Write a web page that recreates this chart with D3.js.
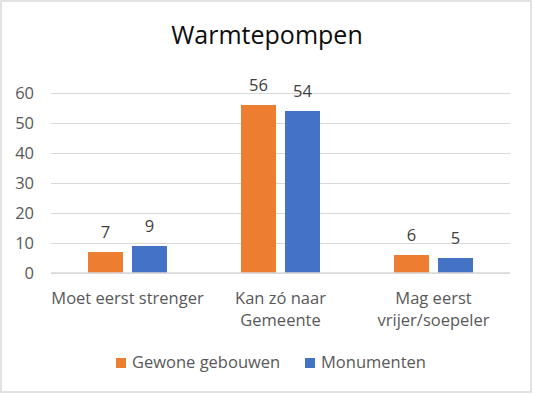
<!DOCTYPE html>
<html>
<head>
<meta charset="utf-8">
<script src="https://cdn.jsdelivr.net/npm/d3@7"></script>
<style>
  body { margin: 0; background: #fff; }
  text { font-family: "Open Sans", "Noto Sans", sans-serif; }
</style>
</head>
<body>
<svg id="chart"></svg>
<script>
"use strict";

var categories = [["Moet eerst strenger"], ["Kan zó naar", "Gemeente"], ["Mag eerst", "vrijer/soepeler"]];
var seriesNames = ["Gewone gebouwen", "Monumenten"];
var gewone = [7, 56, 6];
var monumenten = [9, 54, 5];
var yTicks = [0, 10, 20, 30, 40, 50, 60];
var colors = ["#ed7d31", "#4472c4"];

var width = 534, height = 394;
var plot = {left: 51, right: 510, top: 93, bottom: 273};
var fontSize = 16.5;

var svg = d3.select("#chart")
  .attr("width", width)
  .attr("height", height);

// chart border
svg.append("rect")
  .attr("x", 1).attr("y", 1)
  .attr("width", 530).attr("height", 391)
  .attr("fill", "#fff")
  .attr("stroke", "#d9d9d9")
  .attr("stroke-width", 1.5);

svg.append("text")
  .attr("x", 267).attr("y", 44)
  .attr("text-anchor", "middle")
  .attr("font-size", 25)
  .attr("fill", "#0d0d0d")
  .text("Warmtepompen");

var yScale = d3.scaleLinear().domain([0, 60]).range([plot.bottom, plot.top]);

var x0 = d3.scaleBand()
  .domain(d3.range(categories.length))
  .range([plot.left, plot.right])
  .paddingInner(0.4837)
  .paddingOuter(0.4837 / 2);

var x1 = d3.scaleBand()
  .domain(d3.range(seriesNames.length))
  .range([0, x0.bandwidth()])
  .paddingInner(9 / 44);

// gridlines + y labels
var yAxis = d3.axisLeft(yScale)
  .tickValues(yTicks)
  .tickSize(-(plot.right - plot.left))
  .tickPadding(17);

var yG = svg.append("g")
  .attr("transform", "translate(" + plot.left + ",0)")
  .call(yAxis);
yG.select(".domain").remove();
yG.selectAll(".tick line").attr("stroke", "#d9d9d9").attr("stroke-width", 1);
yG.selectAll(".tick text")
  .attr("font-size", fontSize)
  .attr("fill", "#595959")
  .style("font-family", "Open Sans");

var data = categories.map(function(c, i) {
  return [gewone[i], monumenten[i]];
});

var groups = svg.append("g").selectAll("g")
  .data(data)
  .enter().append("g")
  .attr("transform", function(d, i) {return "translate(" + x0(i) + ",0)"});

groups.selectAll("rect")
  .data(function(d) {return d})
  .enter().append("rect")
  .attr("x", function(d, j) {return x1(j)})
  .attr("y", function(d) {return yScale(d)})
  .attr("width", x1.bandwidth())
  .attr("height", function(d) {return yScale(0) - yScale(d)})
  .attr("fill", function(d, j) {return colors[j]});

groups.selectAll("text.val")
  .data(function(d) {return d})
  .enter().append("text")
  .attr("class", "val")
  .attr("x", function(d, j) {return x1(j) + x1.bandwidth() / 2})
  .attr("y", function(d) {return yScale(d) - 14})
  .attr("text-anchor", "middle")
  .attr("font-size", fontSize)
  .attr("fill", "#404040")
  .text(function(d) {return d});

// baseline
svg.append("line")
  .attr("x1", plot.left).attr("x2", plot.right)
  .attr("y1", plot.bottom).attr("y2", plot.bottom)
  .attr("stroke", "#d9d9d9")
  .attr("stroke-width", 1.5);

// category labels
var catG = svg.append("g").selectAll("text")
  .data(categories)
  .enter().append("text")
  .attr("x", function(d, i) {return x0(i) + x0.bandwidth() / 2})
  .attr("y", 304)
  .attr("text-anchor", "middle")
  .attr("font-size", fontSize)
  .attr("fill", "#595959");

catG.selectAll("tspan")
  .data(function(d) {return d})
  .enter().append("tspan")
  .attr("x", function() {return this.parentNode.getAttribute("x")})
  .attr("dy", function(d, j) {return j === 0 ? 0 : 22})
  .text(function(d) {return d});

// legend
var legendX = [116, 305];
var legend = svg.append("g").selectAll("g")
  .data(seriesNames)
  .enter().append("g")
  .attr("transform", function(d, i) {return "translate(" + legendX[i] + ",358)"});

legend.append("rect")
  .attr("width", 10).attr("height", 10)
  .attr("fill", function(d, i) {return colors[i]});

legend.append("text")
  .attr("x", 16).attr("y", 10)
  .attr("font-size", fontSize)
  .attr("fill", "#595959")
  .text(function(d) {return d});
</script>
</body>
</html>
